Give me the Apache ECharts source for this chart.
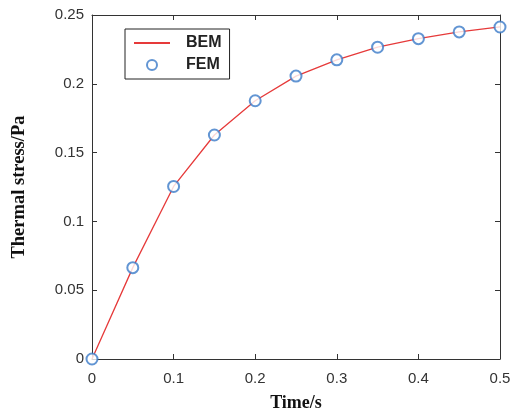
<!DOCTYPE html>
<html><head><meta charset="utf-8">
<script src="https://cdn.jsdelivr.net/npm/echarts@6/dist/echarts.min.js"></script>
<style>html,body{margin:0;padding:0;background:#fff;}#c{width:511px;height:416px;}</style>
</head><body><div id="c"></div>
<script>
const times = [0, 0.05, 0.1, 0.15, 0.2, 0.25, 0.3, 0.35, 0.4, 0.45, 0.5];
const bemValues = [0, 0.0664, 0.1254, 0.1628, 0.1877, 0.2056, 0.2174, 0.2266, 0.2328, 0.2377, 0.2413];
const femValues = [0, 0.0664, 0.1254, 0.1628, 0.1877, 0.2056, 0.2174, 0.2266, 0.2328, 0.2377, 0.2413];
const seriesNames = ['BEM', 'FEM'];
const xLabel = 'Time/s';
const yLabel = 'Thermal stress/Pa';

const chart = echarts.init(document.getElementById('c'));
const axisLine = {show: true, onZero: false, lineStyle: {color: '#333', width: 1}};
const tickIn = {show: true, inside: true, length: 5, lineStyle: {color: '#333'}};
const lbl = {color: '#333', fontFamily: 'Liberation Sans, Arial, sans-serif', fontSize: 15};
chart.setOption({
  animation: false,
  backgroundColor: '#fff',
  grid: {left: 92, right: 11, top: 15, bottom: 57, outerBoundsMode: 'none', containLabel: false},
  legend: {
    orient: 'vertical', left: 125, top: 29,
    borderColor: '#222', borderWidth: 1, padding: [6, 8, 6, 8],
    itemWidth: 36, itemHeight: 10, itemGap: 6,
    textStyle: {color: '#222', fontWeight: 'bold', fontSize: 16, fontFamily: 'Liberation Sans, Arial, sans-serif', padding: [0, 0, 0, 11]},
    data: [
      {name: seriesNames[0], itemStyle: {opacity: 0}},
      {name: seriesNames[1]}
    ]
  },
  xAxis: [{
    type: 'value', min: 0, max: 0.5, interval: 0.1,
    axisLine: axisLine, axisTick: tickIn, splitLine: {show: false},
    axisLabel: Object.assign({margin: 12}, lbl),
    name: xLabel, nameLocation: 'middle', nameGap: 35,
    nameTextStyle: {fontFamily: 'Liberation Serif, Times New Roman, serif', fontWeight: 'bold', fontSize: 18, color: '#111'}
  }, {
    type: 'value', position: 'top', min: 0, max: 0.5, interval: 0.1,
    axisLine: axisLine, axisTick: tickIn, axisLabel: {show: false}, splitLine: {show: false}
  }],
  yAxis: [{
    type: 'value', min: 0, max: 0.25, interval: 0.05,
    axisLine: axisLine, axisTick: tickIn, splitLine: {show: false},
    axisLabel: Object.assign({margin: 8}, lbl),
    name: yLabel, nameLocation: 'middle', nameGap: 63, nameRotate: 90,
    nameTextStyle: {fontFamily: 'Liberation Serif, Times New Roman, serif', fontWeight: 'bold', fontSize: 18.5, color: '#111'}
  }, {
    type: 'value', position: 'right', min: 0, max: 0.25, interval: 0.05,
    axisLine: axisLine, axisTick: tickIn, axisLabel: {show: false}, splitLine: {show: false}
  }],
  series: [{
    name: seriesNames[0], type: 'line', symbol: 'none',
    data: times.map((t, i) => [t, bemValues[i]]),
    lineStyle: {color: '#e63a3a', width: 1.3}, itemStyle: {color: '#e63a3a'}, z: 2
  }, {
    name: seriesNames[1], type: 'scatter', symbol: 'emptyCircle', symbolSize: 11,
    data: times.map((t, i) => [t, femValues[i]]),
    itemStyle: {color: '#3b7bc8', borderWidth: 1.5}, z: 3
  }]
});
</script></body></html>
